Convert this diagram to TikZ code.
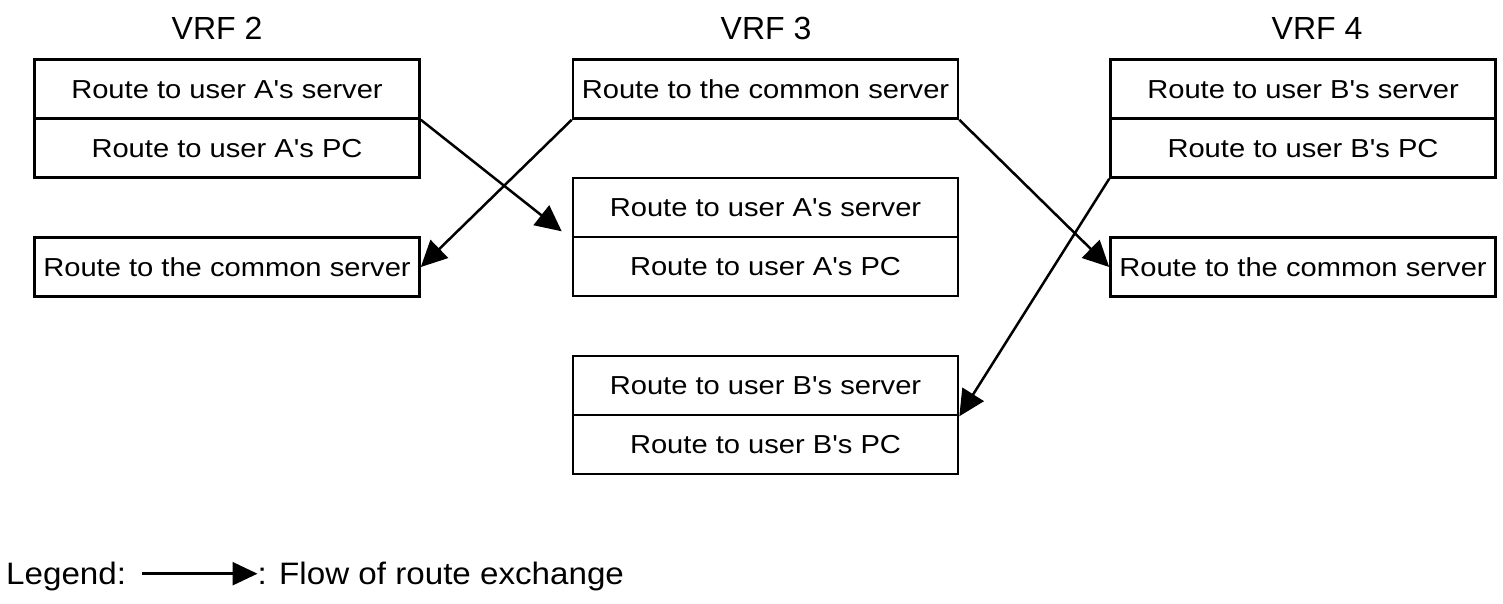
\documentclass[tikz,border=0pt]{standalone}
\usepackage{fontspec}
\setmainfont{Liberation Sans}
\newfontfamily\routefont[FakeStretch=1.12]{Liberation Sans}
\newfontfamily\legfont[FakeStretch=1.07]{Liberation Sans}
\usetikzlibrary{arrows.meta,calc}
\begin{document}
\begin{tikzpicture}[x=1pt,y=-1pt,
  cell/.style={draw, line width=2.6pt, minimum width=385pt, minimum height=59pt,
    inner sep=0pt, text height=18.7pt, text depth=0pt,
    font=\routefont\fontsize{26}{30}\selectfont},
  vrftitle/.style={inner sep=0pt, text height=22.7pt, text depth=0pt,
    font=\fontsize{32}{36}\selectfont},
  legtext/.style={inner sep=0pt, text height=22pt, text depth=0pt,
    font=\legfont\fontsize{31}{35}\selectfont},
  flow/.style={line width=2.5pt, -{Triangle[length=26pt,width=25pt]}},
  legflow/.style={line width=2.5pt, -{Triangle[length=25pt,width=23pt]}}]
\useasboundingbox (0,0) rectangle (1503,603);
% titles
\node[vrftitle] (t2) at (217,28) {VRF 2};
\node[vrftitle] (t3) at (766,28) {VRF 3};
\node[vrftitle] (t4) at (1317,28) {VRF 4};
% VRF 2
\node[cell] (v2a) at (227,89) {Route to user A's server};
\node[cell] (v2b) at (227,148) {Route to user A's PC};
\node[cell] (v2c) at (227,267) {Route to the common server};
% VRF 3
\node[cell] (v3a) at (765.5,89) {Route to the common server};
\node[cell] (v3b1) at (765.5,207.5) {Route to user A's server};
\node[cell] (v3b2) at (765.5,266.5) {Route to user A's PC};
\node[cell] (v3c1) at (765.5,385.5) {Route to user B's server};
\node[cell] (v3c2) at (765.5,444.5) {Route to user B's PC};
% VRF 4
\node[cell] (v4a) at (1303,89) {Route to user B's server};
\node[cell] (v4b) at (1303,148) {Route to user B's PC};
\node[cell] (v4c) at (1303,267) {Route to the common server};
% connectors
\coordinate (tip1) at ($(v3b1.south west)+(-10,-7)$);
\draw[flow] (v2a.south east) -- (tip1);
\draw[flow] (v3a.south west) -- (v2c.east);
\draw[flow] (v3a.south east) -- (v4c.west);
\draw[flow] (v4b.south west) -- (v3c1.south east);
% legend
\node[legtext, anchor=west] (leg) at (6,573.7) {Legend:};
\coordinate (legstart) at (142,573.7);
\node[legtext, anchor=west] (flowtxt) at (257.5,573.7) {: Flow of route exchange};
\draw[legflow] (legstart) -- (flowtxt.west);
\end{tikzpicture}
\end{document}
